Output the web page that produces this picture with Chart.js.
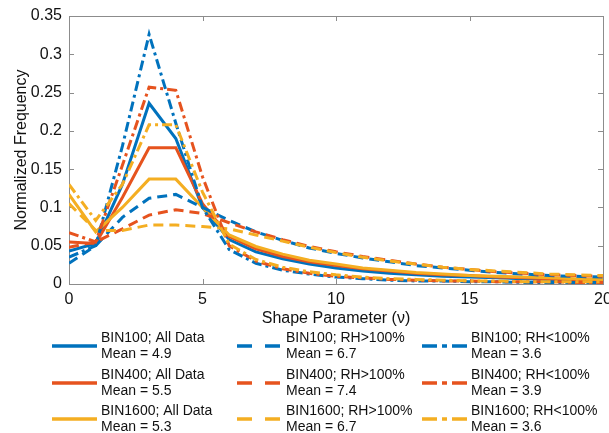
<!DOCTYPE html>
<html>
<head>
<meta charset="utf-8">
<script src="https://cdn.jsdelivr.net/npm/chart.js@4.4.1/dist/chart.umd.min.js"></script>
<style>
  html, body { margin: 0; padding: 0; background: #fff; }
</style>
</head>
<body>
<canvas id="chart" width="609" height="433"></canvas>
<script>
// shape parameter (nu), one point per integer value
const shapeParam = [0, 1, 2, 3, 4, 5, 6, 7, 8, 9, 10, 11, 12, 13, 14, 15, 16, 17, 18, 19, 20];

// All data
const bin100All  = [0.043, 0.053, 0.13, 0.236, 0.19, 0.10, 0.058, 0.042, 0.033, 0.026, 0.021, 0.017, 0.014, 0.012, 0.010, 0.009, 0.008, 0.007, 0.006, 0.005, 0.005];
const bin400All  = [0.055, 0.053, 0.113, 0.178, 0.178, 0.105, 0.062, 0.046, 0.036, 0.029, 0.024, 0.020, 0.017, 0.014, 0.012, 0.011, 0.009, 0.008, 0.007, 0.006, 0.006];
const bin1600All = [0.117, 0.068, 0.10, 0.137, 0.137, 0.10, 0.064, 0.049, 0.039, 0.031, 0.026, 0.021, 0.018, 0.015, 0.013, 0.011, 0.010, 0.009, 0.008, 0.007, 0.006];
// RH > 100%
const bin100Sup  = [0.027, 0.05, 0.087, 0.112, 0.117, 0.10, 0.083, 0.068, 0.057, 0.047, 0.040, 0.034, 0.029, 0.024, 0.021, 0.018, 0.015, 0.013, 0.011, 0.010, 0.009];
const bin400Sup  = [0.048, 0.055, 0.072, 0.09, 0.097, 0.092, 0.08, 0.068, 0.058, 0.049, 0.042, 0.036, 0.031, 0.026, 0.022, 0.019, 0.016, 0.014, 0.012, 0.011, 0.010];
const bin1600Sup = [0.105, 0.07, 0.07, 0.077, 0.077, 0.075, 0.072, 0.064, 0.056, 0.048, 0.041, 0.035, 0.030, 0.026, 0.022, 0.019, 0.017, 0.015, 0.013, 0.012, 0.011];
// RH < 100%
const bin100Sub  = [0.035, 0.05, 0.18, 0.326, 0.21, 0.10, 0.045, 0.027, 0.018, 0.013, 0.009, 0.007, 0.005, 0.004, 0.004, 0.003, 0.003, 0.002, 0.002, 0.002, 0.002];
const bin400Sub  = [0.067, 0.055, 0.155, 0.257, 0.253, 0.14, 0.05, 0.03, 0.02, 0.014, 0.010, 0.008, 0.006, 0.005, 0.004, 0.004, 0.003, 0.003, 0.003, 0.002, 0.002];
const bin1600Sub = [0.13, 0.083, 0.13, 0.208, 0.208, 0.12, 0.052, 0.032, 0.022, 0.016, 0.012, 0.009, 0.007, 0.006, 0.005, 0.004, 0.004, 0.003, 0.003, 0.003, 0.003];

const seriesNames = [
  'BIN100; All Data', 'BIN400; All Data', 'BIN1600; All Data',
  'BIN100; RH>100%', 'BIN400; RH>100%', 'BIN1600; RH>100%',
  'BIN100; RH<100%', 'BIN400; RH<100%', 'BIN1600; RH<100%'
];
const seriesMeans = ['4.9', '5.5', '5.3', '6.7', '7.4', '6.7', '3.6', '3.9', '3.6'];
const seriesData = [bin100All, bin400All, bin1600All, bin100Sup, bin400Sup, bin1600Sup, bin100Sub, bin400Sub, bin1600Sub];

const xTicks = [0, 5, 10, 15, 20];
const yTicks = [0, 0.05, 0.1, 0.15, 0.2, 0.25, 0.3, 0.35];

const binColors = ['#0072BD', '#E6531E', '#F4AE22'];
const plotDash = [[], [10, 6], [10, 4, 3, 4]];
const legendDash = [[], [15, 13], [15, 5, 5, 5]];
const FONT = '"Liberation Sans", Arial, sans-serif';

const datasets = seriesData.map((vals, i) => ({
  label: seriesNames[i],
  data: vals.map((v, k) => ({ x: shapeParam[k], y: v })),
  borderColor: binColors[i % 3],
  borderWidth: 3,
  borderDash: plotDash[Math.floor(i / 3)],
  pointRadius: 0,
  tension: 0,
  fill: false,
  order: -i
}));

// box with inward ticks, plus the 3x3 legend under the axes
const framePlugin = {
  id: 'frame',
  beforeDatasetsDraw(chart) {
    const { ctx, chartArea: a, scales: { x, y } } = chart;
    ctx.save();
    ctx.strokeStyle = '#8c8c8c';
    ctx.lineWidth = 1;
    ctx.strokeRect(Math.round(a.left) + 0.5, Math.round(a.top) + 0.5, Math.round(a.width), Math.round(a.height));
    ctx.beginPath();
    xTicks.forEach(v => {
      const px = Math.round(x.getPixelForValue(v)) + 0.5;
      ctx.moveTo(px, a.bottom); ctx.lineTo(px, a.bottom - 5);
      ctx.moveTo(px, a.top); ctx.lineTo(px, a.top + 5);
    });
    yTicks.forEach(v => {
      const py = Math.round(y.getPixelForValue(v)) + 0.5;
      ctx.moveTo(a.left, py); ctx.lineTo(a.left + 5, py);
      ctx.moveTo(a.right, py); ctx.lineTo(a.right - 5, py);
    });
    ctx.stroke();
    ctx.restore();
  },
  afterDraw(chart) {
    const ctx = chart.ctx;
    const colX = [52, 237, 422];
    const rowY = [346, 383, 419];
    ctx.save();
    ctx.font = '14px ' + FONT;
    ctx.textBaseline = 'middle';
    ctx.fillStyle = '#111';
    seriesNames.forEach((name, i) => {
      const col = Math.floor(i / 3), row = i % 3;
      const lx = colX[col], ly = rowY[row];
      ctx.strokeStyle = binColors[row];
      ctx.lineWidth = 3.5;
      ctx.setLineDash(legendDash[col]);
      ctx.beginPath();
      ctx.moveTo(lx, ly); ctx.lineTo(lx + 45, ly);
      ctx.stroke();
      ctx.setLineDash([]);
      ctx.fillText(name, lx + 49, ly - 8);
      ctx.fillText('Mean = ' + seriesMeans[i], lx + 49, ly + 8);
    });
    ctx.restore();
  }
};

new Chart(document.getElementById('chart'), {
  type: 'line',
  data: { datasets },
  options: {
    responsive: false,
    animation: false,
    layout: { padding: { top: 16, right: 6, bottom: 101, left: 0 } },
    plugins: { legend: { display: false }, tooltip: { enabled: false } },
    scales: {
      x: {
        type: 'linear', min: 0, max: 20,
        afterFit: s => { s.height = 48; s.paddingLeft = 0; s.paddingRight = 0; },
        afterBuildTicks: s => { s.ticks = xTicks.map(v => ({ value: v })); },
        grid: { display: false, drawTicks: false },
        border: { display: false },
        ticks: { padding: 6, color: '#111', font: { family: FONT, size: 16 }, maxRotation: 0 },
        title: { display: true, text: 'Shape Parameter (ν)', color: '#111', font: { family: FONT, size: 16 }, padding: { top: 0, bottom: 4 } }
      },
      y: {
        type: 'linear', min: 0, max: 0.35,
        afterFit: s => { s.width = 69; s.paddingTop = 0; s.paddingBottom = 0; },
        afterBuildTicks: s => { s.ticks = yTicks.map(v => ({ value: v })); },
        grid: { display: false, drawTicks: false },
        border: { display: false },
        ticks: { padding: 7, color: '#111', font: { family: FONT, size: 16 }, callback: v => String(+v.toFixed(2)) },
        title: { display: true, text: 'Normalized Frequency', color: '#111', font: { family: FONT, size: 16 }, padding: { top: 12, bottom: 0 } }
      }
    }
  },
  plugins: [framePlugin]
});
</script>
</body>
</html>
